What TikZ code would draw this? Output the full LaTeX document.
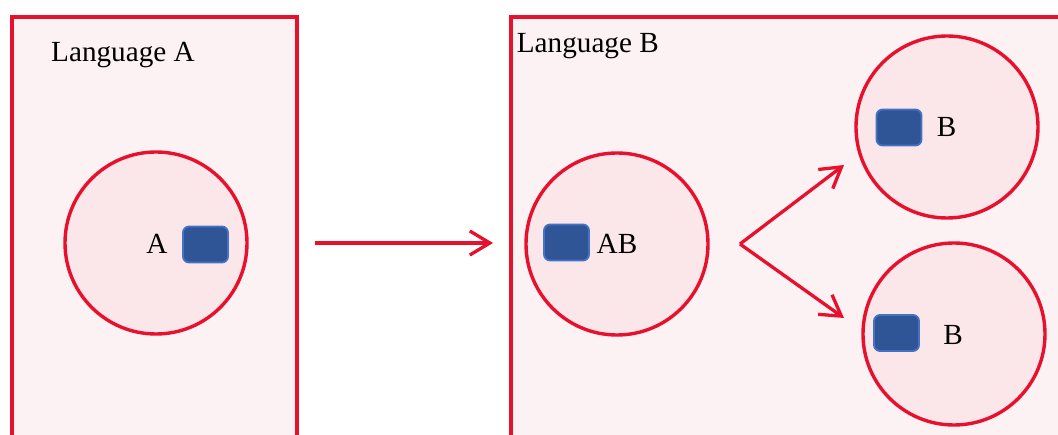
\documentclass[tikz,border=0pt]{standalone}
\usepackage{fontspec}
\setmainfont{Liberation Serif}
\usetikzlibrary{arrows.meta}
\definecolor{linered}{HTML}{E8112D}
\definecolor{boxfill}{HTML}{FCF1F3}
\definecolor{circfill}{HTML}{FBE7EA}
\definecolor{sqfill}{HTML}{2F5597}
\definecolor{sqline}{HTML}{4472C4}
\tikzset{
  langbox/.style={draw=linered, fill=boxfill, line width=4pt},
  region/.style={circle, draw=linered, fill=circfill, line width=3.4pt, minimum size=182pt, inner sep=0pt},
  token/.style={rectangle, rounded corners=6pt, draw=sqline, fill=sqfill, line width=1.8pt, minimum width=45pt, minimum height=36pt, inner sep=0pt},
  lbl/.style={inner sep=0pt, font=\fontsize{29.2}{34}\selectfont, text=black},
  flow/.style={draw=linered, line width=3.3pt, -{Straight Barb[length=20pt,width=24pt,line width=3.3pt]}}
}
\begin{document}
\begin{tikzpicture}[x=1pt,y=-1pt]
\useasboundingbox (0,0) rectangle (1058,435);
\clip (0,0) rectangle (1058,435);
% language boxes
\node[langbox, rectangle, minimum width=285pt, minimum height=440pt, anchor=north west, inner sep=0pt] (boxA) at (10.3,15.3) {};
\node[langbox, rectangle, minimum width=600pt, minimum height=440pt, anchor=north west, inner sep=0pt] (boxB) at (508.7,15.3) {};
\node[lbl, anchor=base west] (langA) at (51,61.7) {Language A};
\node[lbl, anchor=base west] (langB) at (516.7,52.7) {Language B};
% regions
\node[region] (cA) at (156,243) {};
\node[region] (cAB) at (617,244) {};
\node[region] (cB1) at (947,127) {};
\node[region] (cB2) at (954,334) {};
% tokens
\node[token] (sA) at (205.5,244.5) {};
\node[token] (sAB) at (566.5,242.5) {};
\node[token] (sB1) at (899,127.5) {};
\node[token] (sB2) at (896.5,333) {};
% labels
\node[lbl, anchor=base] (tA) at (157,254) {A};
\node[lbl, anchor=base] (tAB) at (617,254) {AB};
\node[lbl, anchor=base] (tB1) at (946.5,137) {B};
\node[lbl, anchor=base] (tB2) at (953,345) {B};
% arrows
\coordinate (mStart) at (315,243);
\coordinate (mEnd) at (493,243);
\coordinate (fork) at (740,244);
\coordinate (up) at (844,165);
\coordinate (down) at (844,318);
\draw[flow] (mStart) -- (mEnd);
\draw[flow] (fork) -- (up);
\draw[flow] (fork) -- (down);
\end{tikzpicture}
\end{document}
